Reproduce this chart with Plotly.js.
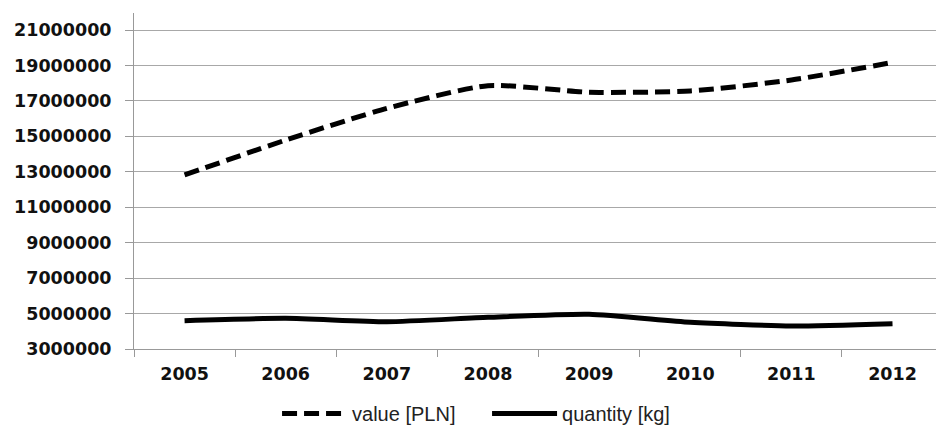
<!DOCTYPE html>
<html>
<head>
<meta charset="utf-8">
<script src="https://cdn.plot.ly/plotly-3.0.1.min.js"></script>
<style>html,body{margin:0;padding:0;background:#fff;}#chart{width:936px;height:429px;}</style>
</head>
<body>
<div id="chart"></div>
<script>
const years = ['2005','2006','2007','2008','2009','2010','2011','2012'];
const valuePLN = [12820000, 14790000, 16580000, 17860000, 17490000, 17560000, 18180000, 19170000];
const quantityKg = [4600000, 4730000, 4540000, 4790000, 4960000, 4510000, 4300000, 4430000];
const yTicks = [3000000, 5000000, 7000000, 9000000, 11000000, 13000000, 15000000, 17000000, 19000000, 21000000];
const yTickText = yTicks.map(v => String(v));

const traces = [
  {x: years, y: valuePLN, type: 'scatter', mode: 'lines', name: 'value [PLN]',
   line: {color: '#000', width: 5, dash: '15px,7px', shape: 'spline', smoothing: 0.6}},
  {x: years, y: quantityKg, type: 'scatter', mode: 'lines', name: 'quantity [kg]',
   line: {color: '#000', width: 5, shape: 'spline', smoothing: 0.6}}
];

const layout = {
  width: 936, height: 429,
  margin: {l: 134, r: 0, t: 13, b: 80, autoexpand: false},
  paper_bgcolor: '#fff', plot_bgcolor: '#fff',
  showlegend: true,
  legend: {orientation: 'h', xref: 'container', x: 0.296, xanchor: 'left',
           yref: 'container', y: 0.036, yanchor: 'middle',
           font: {family: 'Liberation Sans, Arial, sans-serif', size: 20, color: '#222'},
           itemwidth: 65, entrywidth: 130, entrywidthmode: 'pixels',
           tracegroupgap: 0, bgcolor: 'rgba(0,0,0,0)'},
  xaxis: {type: 'category', range: [-0.5, 7.43], showgrid: false,
          showline: true, linecolor: '#999', linewidth: 1,
          ticks: 'outside', tickson: 'boundaries', ticklen: 7, tickcolor: '#999', tickwidth: 1,
          ticklabelstandoff: 9,
          tickfont: {family: 'DejaVu Sans, Verdana, sans-serif', size: 17.5, color: '#111', weight: 'bold'},
          fixedrange: true},
  yaxis: {range: [3000000, 21960000], tickvals: yTicks, ticktext: yTickText,
          showgrid: true, gridcolor: '#a8a8a8', gridwidth: 1, zeroline: false,
          showline: true, linecolor: '#999', linewidth: 1,
          ticks: 'outside', ticklen: 8, tickcolor: '#999', tickwidth: 1,
          ticklabelstandoff: 10,
          tickfont: {family: 'DejaVu Sans, Verdana, sans-serif', size: 17.5, color: '#111', weight: 'bold'},
          fixedrange: true}
};

Plotly.newPlot('chart', traces, layout, {displayModeBar: false, staticPlot: true});
</script>
</body>
</html>
